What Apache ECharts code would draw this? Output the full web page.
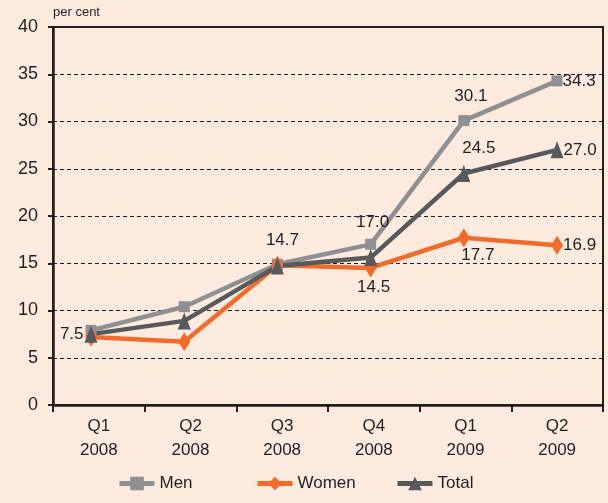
<!DOCTYPE html>
<html>
<head>
<meta charset="utf-8">
<script src="https://cdn.jsdelivr.net/npm/echarts@6/dist/echarts.min.js"></script>
<style>
  html, body { margin: 0; padding: 0; background: #fdebe0; }
  #chart { width: 608px; height: 503px; }
</style>
</head>
<body>
<div id="chart"></div>
<script>
const quarters = ["Q1\n2008", "Q2\n2008", "Q3\n2008", "Q4\n2008", "Q1\n2009", "Q2\n2009"];
const men = [7.9, 10.4, 14.9, 17.0, 30.1, 34.3];
const women = [7.2, 6.7, 14.8, 14.5, 17.7, 16.9];
const total = [7.5, 8.9, 14.7, 15.6, 24.5, 27.0];
const yTicks = [0, 5, 10, 15, 20, 25, 30, 35, 40];
const seriesNames = ["Men", "Women", "Total"];

// which points carry a value label, and where
const menLabels = {
  3: { position: "top", distance: 8, offset: [2, 0] },
  4: { position: "top", distance: 10, offset: [7, 0] },
  5: { position: "right", distance: 0 }
};
const womenLabels = {
  3: { position: "bottom", distance: 1, offset: [3, 0] },
  4: { position: "bottom", distance: 0, offset: [14, 0] },
  5: { position: "right", distance: 0 }
};
const totalLabels = {
  0: { position: "left", distance: 1 },
  2: { position: "top", distance: 9, offset: [5, 0] },
  4: { position: "top", distance: 8, offset: [15, 0] },
  5: { position: "right", distance: 0 }
};

const ink = "#231f20";
const font = "'Liberation Sans', Arial, sans-serif";

function points(values, labels) {
  return values.map((v, i) => ({
    value: [i, v],
    label: labels[i] ? Object.assign({ show: true }, labels[i]) : { show: false }
  }));
}

function line(name, values, labels, color, symbol, size) {
  return {
    name: name,
    type: "line",
    xAxisIndex: 1,
    data: points(values, labels),
    symbol: symbol,
    symbolSize: size,
    lineStyle: { color: color, width: 4.5 },
    itemStyle: { color: color },
    label: {
      color: ink,
      fontSize: 17,
      fontFamily: font,
      formatter: (p) => p.value[1].toFixed(1)
    },
    emphasis: { disabled: true },
    animation: false
  };
}

// one legend per entry so each one starts where the original has it
const legendLefts = [112, 250, 390];
const legends = seriesNames.map((n, i) => ({
  data: [n],
  left: legendLefts[i],
  bottom: 6,
  itemWidth: 35,
  itemHeight: 17,
  lineStyle: { width: 5 },
  textStyle: { fontSize: 17, color: ink, fontFamily: font }
}));

const myChart = echarts.init(document.getElementById("chart"));
myChart.setOption({
  backgroundColor: "#fdebe0",
  textStyle: { fontFamily: font },
  grid: {
    left: 53, right: 5, top: 27, bottom: 98,
    show: true, borderColor: ink, borderWidth: 2, backgroundColor: "transparent"
  },
  legend: legends,
  xAxis: [
    {
      type: "category",
      data: quarters,
      boundaryGap: true,
      axisLine: { show: true, onZero: false, lineStyle: { color: ink, width: 2.5 } },
      axisTick: { show: true, length: 7, lineStyle: { color: ink, width: 2 } },
      axisLabel: { color: ink, fontSize: 17, lineHeight: 24, margin: 9, fontFamily: font }
    },
    {
      // hidden value axis so the markers sit where they do in the original
      type: "value",
      show: false,
      min: -0.408,
      max: 5.493
    }
  ],
  yAxis: {
    type: "value",
    min: yTicks[0],
    max: yTicks[yTicks.length - 1],
    interval: 5,
    name: "per cent",
    nameLocation: "end",
    nameGap: 8,
    nameTextStyle: { color: ink, fontSize: 13, align: "left", fontFamily: font },
    axisLine: { show: true, onZero: false, lineStyle: { color: ink, width: 2.5 } },
    axisTick: { show: true, length: 5, lineStyle: { color: ink, width: 2 } },
    axisLabel: { color: ink, fontSize: 18, margin: 15, fontFamily: font },
    splitLine: { lineStyle: { color: ink, width: 1.2, type: [4, 3] } }
  },
  series: [
    line("Men", men, menLabels, "#8f9092", "rect", [11, 11]),
    line("Women", women, womenLabels, "#f26b2b", "diamond", [12, 19]),
    line("Total", total, totalLabels, "#58595b", "triangle", [13, 17])
  ]
});
</script>
</body>
</html>
